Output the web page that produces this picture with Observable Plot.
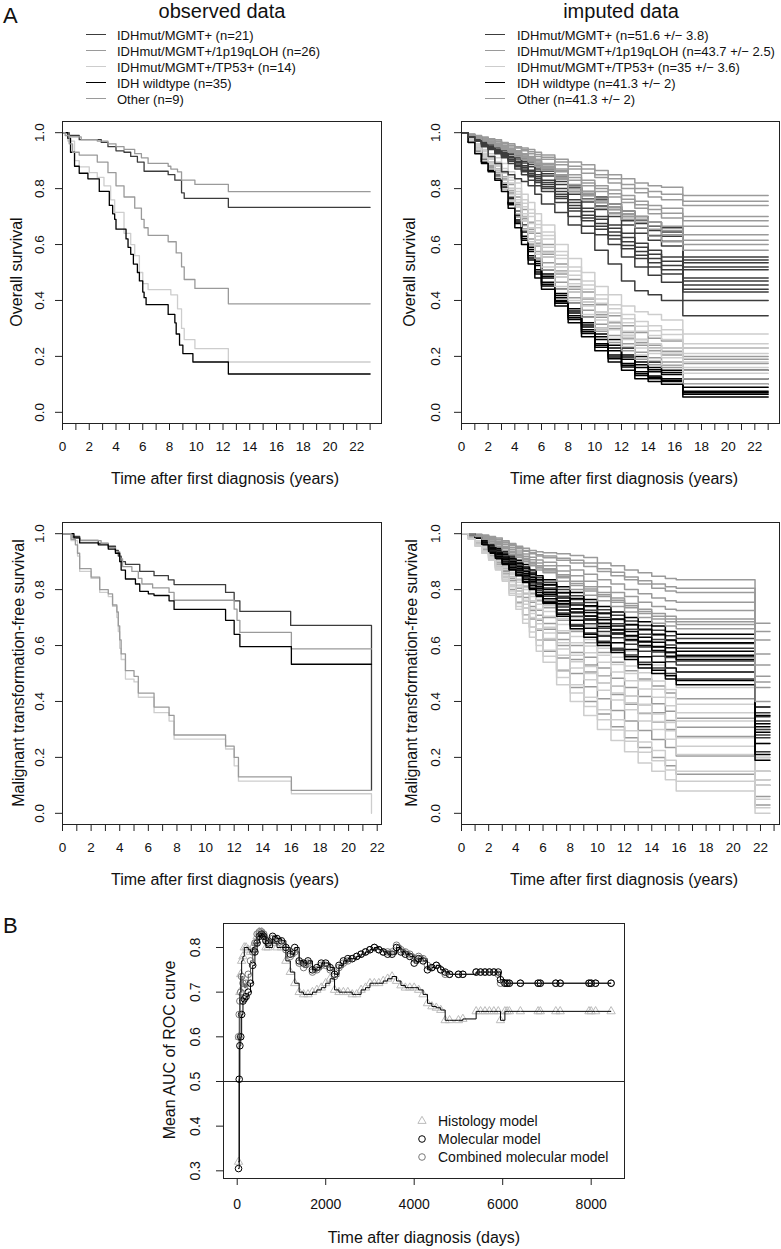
<!DOCTYPE html>
<html><head><meta charset="utf-8">
<script src="https://cdn.jsdelivr.net/npm/d3@7"></script>
<script src="https://cdn.jsdelivr.net/npm/@observablehq/plot@0.6"></script>
<style>
body{margin:0;background:#fff;}
#fig{position:relative;width:781px;height:1249px;font-family:"Liberation Sans",Arial,Helvetica,sans-serif;color:#111;overflow:hidden;background:#fff;}
.abs{position:absolute;white-space:nowrap;line-height:1;}
</style></head><body><div id="fig"></div>
<script>
// ---------------- DATA ----------------
const groupNames = ["IDHmut/MGMT+","IDHmut/MGMT+/1p19qLOH","IDHmut/MGMT+/TP53+","IDH wildtype","Other"];
const obsCounts = ["(n=21)","(n=26)","(n=14)","(n=35)","(n=9)"];
const impCounts = ["(n=51.6 +/\u2212 3.8)","(n=43.7 +/\u2212 2.5)","(n=35 +/\u2212 3.6)","(n=41.3 +/\u2212 2)","(n=41.3 +/\u2212 2)"];
const groupColors = ["#3c3c3c","#9a9a9a","#cdcdcd","#000000","#9a9a9a"];

const yTicksSurv = [0,0.2,0.4,0.6,0.8,1.0];
const xTicksTop = [0,1,2,3,4,5,6,7,8,9,10,11,12,13,14,15,16,17,18,19,20,21,22,23];
const xTicksBL = [0,1,2,3,4,5,6,7,8,9,10,11,12,13,14,15,16,17,18,19,20,21,22];
const xTicksBR = [0,1,2,3,4,5,6,7,8,9,10,11,12,13,14,15,16,17,18,19,20,21,22,23];

// observed overall survival [years, survival]
const osObs_MGMT = [[0,1],[0.5,0.99],[1.25,0.975],[2.9,0.965],[3.4,0.95],[4,0.935],[4.6,0.93],[5.1,0.915],[5.6,0.895],[6.1,0.862],[7.9,0.85],[8.4,0.83],[8.9,0.785],[9.1,0.765],[12.4,0.733],[23,0.733]];
const osObs_1p19q = [[0,1],[0.4,0.985],[1.4,0.975],[2.6,0.97],[3.4,0.96],[4,0.95],[4.6,0.94],[5.4,0.925],[5.9,0.91],[6.4,0.89],[7.9,0.88],[8.1,0.87],[8.6,0.86],[8.9,0.83],[9.9,0.815],[12.4,0.789],[23,0.789]];
const osObs_TP53 = [[0,1],[0.4,0.97],[0.9,0.90],[1.25,0.878],[2,0.857],[2.6,0.84],[3.1,0.81],[3.6,0.76],[3.9,0.715],[4.6,0.64],[5.1,0.60],[5.4,0.56],[5.75,0.50],[6,0.46],[6.4,0.439],[8.1,0.42],[8.6,0.37],[8.9,0.30],[9.1,0.26],[9.9,0.228],[12.4,0.18],[23,0.18]];
const osObs_IDHwt = [[0,1],[0.4,0.98],[0.6,0.93],[0.9,0.88],[1.25,0.855],[1.9,0.835],[2.75,0.79],[3.5,0.74],[3.75,0.71],[3.9,0.69],[4,0.655],[4.75,0.62],[4.9,0.59],[5.1,0.565],[5.3,0.53],[5.6,0.50],[5.75,0.47],[6,0.43],[6.1,0.41],[6.25,0.385],[7.9,0.35],[8.4,0.32],[8.5,0.28],[8.75,0.24],[9,0.21],[9.75,0.18],[12.4,0.137],[23,0.137]];
const osObs_Other = [[0,1],[0.2,0.99],[0.5,0.96],[0.75,0.93],[1.25,0.92],[2.6,0.895],[3.4,0.857],[4,0.81],[4.6,0.77],[5.4,0.73],[5.9,0.69],[6.1,0.66],[6.4,0.633],[7.9,0.61],[8.5,0.57],[8.9,0.52],[9.1,0.475],[9.9,0.443],[12.4,0.388],[23,0.388]];

// observed malignant-transformation-free survival
const mtObs_MGMT = [[0,1],[0.7,0.99],[1.2,0.976],[2.5,0.965],[3.2,0.955],[3.7,0.94],[3.9,0.92],[4.1,0.90],[4.4,0.89],[5.4,0.865],[6.4,0.85],[7.4,0.835],[7.8,0.818],[11.4,0.79],[12.0,0.76],[12.4,0.722],[15.95,0.672],[21.6,0.082]];
const mtObs_1p19q = [[0,1],[0.7,0.985],[1.2,0.975],[2.7,0.965],[3.2,0.95],[3.7,0.935],[4,0.91],[4.2,0.882],[4.85,0.865],[5.3,0.84],[5.55,0.82],[6.3,0.806],[7.45,0.79],[7.8,0.762],[12.0,0.73],[12.2,0.69],[12.4,0.647],[16,0.588],[21.6,0.588]];
const mtObs_TP53 = [[0,1],[0.6,0.975],[1.05,0.92],[1.2,0.865],[2,0.84],[2.6,0.79],[3.2,0.775],[3.5,0.74],[3.8,0.70],[3.9,0.65],[4.0,0.59],[4.1,0.55],[4.4,0.48],[5.0,0.47],[5.3,0.415],[6.4,0.36],[7.45,0.33],[7.8,0.265],[11.4,0.23],[12.0,0.17],[12.3,0.115],[16,0.07],[21.6,0]];
const mtObs_IDHwt = [[0,1],[0.8,0.985],[1.2,0.967],[2.5,0.96],[3.2,0.945],[3.7,0.93],[4,0.90],[4.1,0.87],[4.4,0.838],[5.1,0.82],[5.4,0.794],[6,0.785],[6.4,0.779],[7.45,0.76],[7.8,0.729],[11.4,0.69],[12,0.64],[12.4,0.596],[16,0.533],[21.6,0.533]];
const mtObs_Other = [[0,1],[0.6,0.98],[0.9,0.96],[1.05,0.93],[1.2,0.875],[2,0.845],[2.6,0.80],[3.2,0.785],[3.5,0.745],[3.8,0.72],[3.9,0.67],[4.0,0.62],[4.1,0.57],[4.4,0.51],[5.0,0.49],[5.3,0.43],[6.4,0.38],[7.45,0.35],[7.8,0.28],[11.4,0.24],[12.0,0.20],[12.3,0.13],[16,0.082],[21.6,0.082]];

// imputed overall survival: time grid and curves (one row per imputation)
const osImpTimes = [0,0.5,1,1.5,2,2.5,3,3.5,4,4.5,5,5.5,6,7,8,9,10,11,12,13,14,15,16.6,23];
const osImp_MGMT = [
 [1,.99,.985,.975,.965,.96,.95,.94,.925,.915,.905,.89,.875,.85,.81,.79,.77,.745,.72,.70,.68,.66,.555,.555],
 [1,.99,.984,.974,.964,.958,.947,.936,.922,.91,.899,.884,.868,.842,.805,.782,.76,.735,.71,.688,.665,.645,.545,.545],
 [1,.99,.982,.972,.962,.955,.944,.932,.918,.905,.893,.878,.862,.835,.80,.775,.75,.725,.70,.675,.65,.63,.535,.535],
 [1,.989,.981,.97,.96,.951,.94,.927,.912,.898,.886,.87,.853,.825,.79,.763,.738,.712,.685,.658,.632,.612,.52,.52],
 [1,.988,.98,.968,.957,.948,.936,.922,.906,.892,.878,.862,.845,.815,.78,.752,.725,.70,.67,.64,.615,.595,.51,.51],
 [1,.988,.978,.965,.952,.942,.93,.915,.898,.882,.866,.85,.83,.80,.76,.73,.70,.67,.64,.605,.58,.555,.48,.48],
 [1,.987,.977,.963,.95,.939,.926,.91,.893,.876,.86,.842,.822,.79,.75,.718,.69,.658,.625,.59,.565,.54,.47,.47],
 [1,.987,.975,.962,.948,.936,.922,.905,.888,.87,.853,.835,.815,.78,.74,.705,.675,.645,.61,.575,.55,.525,.455,.455],
 [1,.986,.974,.96,.946,.933,.919,.902,.883,.865,.848,.828,.807,.772,.73,.695,.665,.632,.597,.562,.535,.51,.44,.44],
 [1,.986,.973,.958,.944,.93,.916,.898,.878,.86,.842,.822,.80,.765,.72,.685,.655,.62,.585,.55,.52,.495,.43,.43],
 [1,.985,.97,.955,.94,.925,.91,.89,.87,.85,.83,.81,.79,.75,.70,.665,.635,.60,.555,.52,.49,.465,.40,.40],
 [1,.985,.97,.95,.915,.89,.86,.85,.835,.825,.81,.78,.745,.715,.67,.64,.58,.53,.47,.435,.42,.40,.345,.345]
];
const osImp_1p19q = [
 [1,.995,.99,.985,.978,.975,.965,.96,.95,.945,.94,.93,.92,.905,.895,.885,.865,.85,.835,.82,.81,.805,.775,.775],
 [1,.994,.988,.982,.976,.97,.962,.955,.947,.94,.932,.922,.912,.895,.88,.87,.85,.835,.815,.80,.79,.78,.755,.755],
 [1,.993,.987,.98,.975,.968,.96,.952,.945,.935,.925,.915,.905,.885,.87,.855,.84,.82,.80,.785,.77,.76,.74,.74],
 [1,.992,.985,.978,.97,.962,.955,.945,.935,.925,.915,.905,.89,.87,.85,.83,.81,.795,.775,.755,.74,.73,.70,.70],
 [1,.991,.984,.976,.969,.961,.952,.942,.932,.922,.912,.90,.885,.865,.84,.82,.80,.782,.762,.742,.725,.712,.685,.685],
 [1,.99,.983,.975,.968,.96,.95,.94,.93,.92,.91,.895,.88,.86,.83,.81,.79,.77,.75,.73,.71,.695,.665,.665],
 [1,.99,.982,.973,.965,.957,.947,.937,.925,.915,.903,.89,.875,.85,.815,.79,.765,.745,.72,.70,.68,.665,.635,.635],
 [1,.99,.981,.972,.963,.954,.945,.935,.922,.912,.901,.887,.872,.845,.808,.782,.757,.735,.71,.69,.667,.65,.615,.615],
 [1,.99,.98,.972,.962,.952,.943,.933,.92,.91,.90,.885,.87,.84,.80,.775,.75,.725,.70,.68,.655,.635,.60,.60],
 [1,.99,.98,.97,.96,.95,.94,.93,.915,.905,.895,.88,.865,.835,.79,.76,.73,.71,.69,.66,.63,.61,.58,.58]
];
const osImp_TP53 = [
 [1,.985,.96,.94,.925,.91,.89,.86,.82,.78,.75,.71,.67,.60,.55,.50,.45,.42,.38,.36,.35,.33,.28,.28],
 [1,.983,.957,.935,.91,.888,.863,.83,.79,.748,.712,.672,.632,.562,.505,.455,.405,.37,.335,.308,.292,.278,.23,.23],
 [1,.982,.955,.932,.915,.895,.872,.84,.80,.76,.725,.685,.645,.575,.52,.47,.42,.385,.35,.325,.31,.295,.245,.245],
 [1,.98,.95,.925,.905,.88,.855,.82,.78,.735,.70,.66,.62,.55,.49,.44,.39,.355,.32,.29,.275,.26,.21,.21],
 [1,.977,.945,.918,.895,.868,.84,.80,.76,.71,.675,.63,.59,.52,.46,.41,.36,.325,.29,.26,.245,.23,.18,.18],
 [1,.975,.942,.914,.89,.862,.83,.79,.748,.698,.66,.615,.572,.502,.445,.395,.345,.31,.275,.245,.228,.212,.16,.16],
 [1,.973,.94,.91,.885,.855,.82,.78,.735,.685,.645,.60,.555,.485,.43,.38,.33,.295,.26,.23,.21,.195,.14,.14],
 [1,.97,.93,.90,.87,.84,.80,.755,.71,.655,.61,.565,.52,.45,.40,.35,.30,.265,.235,.205,.185,.17,.10,.10]
];
const osImp_IDHwt = [
 [1,.975,.94,.91,.885,.86,.83,.78,.72,.67,.60,.55,.51,.44,.39,.34,.30,.26,.23,.20,.18,.17,.15,.15],
 [1,.973,.937,.905,.88,.853,.82,.77,.71,.655,.59,.54,.495,.425,.37,.32,.28,.24,.205,.18,.16,.15,.10,.10],
 [1,.972,.936,.903,.877,.85,.817,.766,.705,.65,.582,.532,.487,.418,.362,.312,.27,.23,.198,.17,.152,.142,.12,.12],
 [1,.971,.935,.902,.875,.848,.815,.762,.70,.645,.575,.525,.48,.41,.355,.305,.26,.22,.19,.16,.145,.135,.09,.09],
 [1,.969,.932,.898,.87,.842,.808,.752,.688,.63,.56,.51,.465,.40,.345,.295,.245,.205,.175,.145,.13,.12,.075,.075],
 [1,.968,.93,.896,.867,.839,.804,.747,.681,.622,.552,.502,.458,.395,.338,.288,.24,.198,.168,.138,.125,.115,.07,.07],
 [1,.967,.928,.894,.865,.836,.80,.742,.675,.615,.545,.495,.452,.39,.332,.282,.233,.192,.162,.132,.12,.11,.065,.065],
 [1,.965,.925,.89,.86,.83,.79,.73,.66,.60,.53,.48,.44,.38,.32,.27,.22,.18,.15,.12,.11,.10,.055,.055]
];
const osImp_Other = [
 [1,.98,.95,.925,.905,.88,.855,.815,.77,.725,.68,.64,.60,.53,.475,.43,.385,.345,.31,.285,.265,.255,.23,.23],
 [1,.978,.946,.918,.895,.87,.842,.80,.75,.70,.655,.615,.575,.505,.45,.405,.36,.32,.285,.26,.24,.23,.20,.20],
 [1,.977,.944,.915,.891,.865,.836,.792,.742,.692,.647,.605,.565,.495,.44,.395,.35,.31,.275,.25,.23,.218,.19,.19],
 [1,.975,.942,.912,.888,.86,.83,.785,.735,.685,.64,.595,.555,.485,.43,.385,.34,.30,.265,.24,.22,.205,.175,.175],
 [1,.973,.938,.906,.88,.852,.82,.772,.72,.668,.62,.575,.535,.465,.41,.365,.315,.275,.245,.215,.195,.18,.15,.15],
 [1,.97,.935,.90,.875,.845,.81,.76,.70,.65,.60,.55,.51,.44,.39,.34,.29,.25,.22,.19,.17,.16,.12,.12]
];

// imputed malignant-transformation-free survival
const mtImpTimes = [0,0.5,1,1.5,2,2.5,3,3.5,4,4.5,5,5.5,6,7,8,9,10,11,12,13,14,15,15.8,21.6,22.7];
const mtImp_MGMT = [
 [1,.998,.99,.974,.958,.944,.93,.915,.898,.882,.862,.842,.826,.80,.778,.754,.728,.708,.688,.672,.655,.635,.625,.36,.36],
 [1,.997,.989,.972,.955,.94,.925,.909,.892,.875,.855,.834,.816,.788,.765,.74,.714,.693,.673,.656,.638,.618,.607,.345,.345],
 [1,.997,.988,.97,.952,.936,.92,.904,.886,.868,.848,.826,.806,.776,.752,.726,.70,.678,.658,.64,.622,.602,.59,.33,.33],
 [1,.996,.987,.967,.947,.929,.912,.894,.875,.856,.834,.81,.79,.758,.73,.705,.678,.655,.632,.612,.594,.574,.56,.30,.30],
 [1,.996,.986,.965,.943,.924,.906,.888,.868,.848,.826,.802,.782,.746,.716,.69,.662,.64,.618,.595,.577,.557,.545,.28,.28],
 [1,.996,.986,.964,.94,.92,.902,.884,.864,.842,.82,.797,.776,.738,.705,.678,.65,.628,.605,.58,.562,.542,.53,.27,.27],
 [1,.995,.985,.962,.934,.914,.894,.875,.855,.83,.806,.782,.758,.716,.675,.645,.615,.59,.566,.54,.52,.50,.48,.22,.22]
];
const mtImp_1p19q = [
 [1,1,.998,.995,.99,.985,.975,.965,.955,.948,.94,.935,.932,.928,.922,.915,.895,.885,.87,.86,.848,.84,.835,.68,.68],
 [1,.999,.997,.993,.987,.98,.97,.96,.95,.94,.932,.925,.92,.912,.905,.895,.875,.862,.845,.832,.82,.81,.805,.65,.65],
 [1,.999,.996,.992,.985,.978,.968,.957,.946,.937,.928,.92,.914,.905,.895,.883,.865,.85,.835,.82,.805,.795,.79,.62,.62],
 [1,.998,.995,.99,.982,.973,.962,.95,.938,.927,.916,.906,.898,.885,.87,.855,.835,.82,.80,.785,.77,.76,.755,.57,.57],
 [1,.998,.994,.988,.978,.968,.955,.943,.931,.919,.907,.895,.885,.867,.85,.83,.81,.79,.775,.755,.74,.73,.725,.53,.53],
 [1,.997,.993,.986,.974,.964,.95,.937,.925,.912,.898,.885,.875,.853,.83,.81,.79,.77,.75,.73,.715,.705,.695,.49,.49],
 [1,.997,.993,.985,.972,.962,.948,.934,.922,.909,.895,.881,.871,.848,.822,.802,.782,.762,.742,.722,.705,.695,.685,.47,.47],
 [1,.996,.992,.983,.97,.96,.946,.931,.92,.906,.892,.877,.867,.842,.815,.795,.775,.755,.735,.715,.695,.685,.675,.45,.45],
 [1,.995,.99,.98,.965,.955,.94,.925,.915,.90,.885,.87,.86,.83,.80,.78,.76,.74,.72,.70,.68,.67,.66,.40,.40]
];
const mtImp_TP53 = [
 [1,.99,.975,.955,.94,.92,.90,.88,.86,.84,.82,.80,.78,.74,.70,.67,.64,.61,.58,.56,.53,.50,.45,.30,.30],
 [1,.988,.971,.95,.932,.91,.887,.862,.838,.814,.79,.765,.742,.697,.655,.622,.59,.558,.527,.503,.473,.443,.39,.25,.25],
 [1,.988,.969,.947,.928,.904,.88,.853,.826,.80,.775,.748,.722,.675,.632,.598,.565,.532,.50,.474,.444,.414,.36,.22,.22],
 [1,.987,.967,.945,.925,.899,.873,.845,.815,.788,.76,.73,.705,.653,.61,.574,.54,.505,.474,.445,.415,.385,.33,.20,.20],
 [1,.985,.964,.94,.918,.89,.86,.828,.795,.762,.73,.695,.665,.61,.565,.525,.49,.455,.42,.39,.355,.325,.27,.15,.15],
 [1,.985,.962,.938,.915,.885,.852,.818,.784,.748,.715,.678,.645,.588,.542,.50,.465,.43,.395,.36,.328,.295,.24,.12,.12],
 [1,.984,.96,.936,.912,.88,.845,.81,.773,.735,.70,.66,.625,.565,.52,.478,.44,.405,.37,.33,.30,.265,.21,.10,.10],
 [1,.982,.957,.933,.908,.875,.838,.795,.75,.708,.665,.62,.583,.513,.46,.415,.37,.335,.295,.255,.225,.19,.15,.05,.05],
 [1,.981,.956,.931,.906,.872,.834,.787,.74,.694,.648,.60,.562,.486,.43,.382,.335,.298,.258,.218,.188,.155,.115,.02,.02],
 [1,.98,.955,.93,.905,.87,.83,.78,.73,.68,.63,.58,.54,.46,.40,.35,.30,.26,.22,.18,.15,.12,.08,.0,.0]
];
const mtImp_IDHwt = [
 [1,.998,.99,.975,.96,.948,.935,.92,.905,.89,.87,.85,.835,.81,.79,.765,.74,.72,.70,.685,.67,.65,.64,.38,.38],
 [1,.997,.989,.972,.955,.94,.926,.91,.893,.877,.856,.835,.818,.79,.768,.742,.716,.695,.675,.658,.64,.62,.61,.35,.35],
 [1,.997,.988,.969,.95,.933,.917,.90,.882,.864,.842,.82,.80,.77,.745,.718,.692,.67,.65,.63,.612,.592,.58,.32,.32],
 [1,.997,.988,.967,.947,.93,.913,.895,.876,.857,.835,.812,.791,.76,.732,.706,.68,.657,.636,.615,.597,.577,.565,.31,.31],
 [1,.996,.987,.966,.944,.926,.908,.89,.87,.85,.828,.805,.783,.75,.72,.695,.668,.645,.622,.60,.582,.562,.55,.29,.29],
 [1,.996,.986,.963,.937,.918,.899,.88,.86,.837,.814,.79,.767,.727,.69,.662,.634,.61,.586,.56,.54,.52,.505,.25,.25],
 [1,.995,.985,.961,.933,.913,.893,.872,.852,.828,.804,.779,.755,.712,.67,.64,.61,.584,.56,.532,.512,.492,.475,.21,.21],
 [1,.995,.985,.96,.93,.91,.89,.87,.85,.825,.80,.775,.75,.705,.66,.63,.60,.575,.55,.52,.50,.48,.46,.19,.19]
];
const mtImp_Other = [
 [1,.99,.97,.95,.93,.91,.885,.86,.835,.81,.785,.76,.735,.69,.65,.61,.575,.54,.51,.48,.455,.43,.41,.20,.20],
 [1,.989,.967,.946,.925,.903,.875,.846,.815,.785,.755,.726,.70,.645,.60,.558,.52,.483,.45,.418,.392,.365,.34,.15,.15],
 [1,.988,.966,.944,.922,.899,.87,.84,.805,.772,.74,.708,.679,.622,.575,.53,.492,.454,.42,.388,.36,.332,.308,.12,.12],
 [1,.988,.965,.943,.92,.895,.866,.833,.795,.76,.725,.69,.658,.60,.55,.505,.465,.425,.39,.357,.327,.30,.275,.10,.10],
 [1,.986,.962,.939,.915,.888,.856,.817,.775,.735,.695,.655,.62,.555,.50,.453,.41,.368,.33,.296,.264,.235,.205,.06,.06],
 [1,.985,.96,.935,.91,.88,.845,.80,.755,.71,.665,.62,.58,.51,.45,.40,.355,.31,.27,.235,.20,.17,.14,.03,.03]
];

// Panel B: mean AUC over time (days)
const aucModels = ["Histology model","Molecular model","Combined molecular model"];
const aucDays = [30,45,60,80,100,130,160,200,250,300,350,400,450,500,550,600,650,700,800,900,1000,1100,1200,1300,1400,1500,1600,1700,1800,1900,2000,2100,2200,2300,2400,2500,2600,2700,2800,2900,3000,3100,3200,3300,3400,3500,3600,3700,3800,3900,4000,4100,4200,4300,4400,4500,4600,4700,4800,5000,5100,5400,5500,5600,5700,5800,5900,5950,6050,6100,6150,6400,6800,6850,7200,7300,7950,8000,8100,8450];
const aucMolecular = [.305,.505,.58,.60,.65,.68,.685,.69,.70,.72,.76,.79,.81,.825,.83,.825,.815,.81,.825,.82,.815,.80,.785,.80,.77,.765,.77,.75,.755,.765,.765,.755,.74,.76,.77,.775,.775,.78,.785,.79,.795,.80,.795,.79,.785,.785,.80,.79,.785,.78,.765,.775,.77,.75,.755,.76,.75,.745,.74,.74,.74,.745,.745,.745,.745,.745,.745,.728,.72,.72,.72,.72,.72,.72,.72,.72,.72,.72,.72,.72];
const aucCombined = [.60,.65,.68,.70,.735,.72,.71,.72,.74,.77,.79,.81,.83,.835,.835,.83,.815,.815,.82,.815,.81,.795,.78,.79,.765,.755,.765,.745,.75,.76,.76,.75,.735,.755,.765,.77,.775,.78,.785,.79,.795,.80,.795,.79,.79,.79,.805,.795,.79,.785,.775,.78,.775,.76,.755,.76,.75,.74,.74,.74,.74,.745,.745,.745,.745,.745,.74,.72,.72,.72,.72,.72,.72,.72,.72,.72,.72,.72,.72,.72];
const aucHistology = [.32,.60,.70,.74,.77,.78,.80,.80,.795,.79,.80,.81,.825,.835,.835,.83,.80,.80,.81,.80,.80,.77,.745,.72,.70,.695,.695,.70,.705,.71,.72,.73,.705,.70,.70,.70,.695,.695,.705,.71,.72,.72,.72,.725,.73,.735,.725,.715,.71,.71,.71,.705,.695,.675,.668,.665,.66,.637,.637,.637,.64,.657,.657,.657,.657,.657,.657,.637,.657,.657,.657,.657,.657,.657,.657,.657,.657,.657,.657,.657];
const aucTicksX = [0,2000,4000,6000,8000];
const aucTicksY = [0.3,0.4,0.5,0.6,0.7,0.8];
const aucRef = [0.5];

// ---------------- RENDER ----------------
const FONT = '"Liberation Sans", Arial, Helvetica, sans-serif';
const fig = document.getElementById("fig");

function txt(s, x, y, size, opts = {}) {
  const d = document.createElement("div");
  d.className = "abs";
  d.textContent = s;
  d.style.left = x + "px";
  d.style.top = y + "px";
  d.style.fontSize = size + "px";
  if (opts.color) d.style.color = opts.color;
  let tf = opts.anchor === "middle" ? "translate(-50%,-50%)" : "translate(0,-50%)";
  if (opts.rotate) tf = "translate(-50%,-50%) rotate(-90deg)";
  d.style.transform = tf;
  fig.appendChild(d);
}
function place(el, left, top) {
  el.style.position = "absolute";
  el.style.left = left + "px";
  el.style.top = top + "px";
  fig.appendChild(el);
}

function obsData(list) {
  const out = [];
  list.forEach((pts, k) => pts.forEach(([t, s]) => out.push({id: "o" + k, t, s, c: groupColors[k]})));
  return out;
}
function impData(times, lists) {
  const out = [];
  const maxN = Math.max(...lists.map(l => l.length));
  for (let i = 0; i < maxN; i++) {
    lists.forEach((rows, g) => {
      const row = rows[i];
      if (!row) return;
      times.forEach((t, j) => { if (row[j] != null) out.push({id: g + "_" + i, t, s: row[j], c: groupColors[g]}); });
    });
  }
  return out;
}

function survPanel({fx, fy, xmax, xticks, data, sw, ypad}) {
  const mL = 70, mR = 2, mT = 6, mB = 44;
  const fw = fx[1] - fx[0], fh = fy[1] - fy[0];
  const svg = Plot.plot({
    width: fw + mL + mR, height: fh + mT + mB,
    marginLeft: mL, marginRight: mR, marginTop: mT, marginBottom: mB,
    style: {fontFamily: FONT, fontSize: "13.5px", color: "#111", background: "transparent", overflow: "visible"},
    x: {domain: [0, xmax]},
    y: {domain: [-0.04, 1.04]},
    color: {type: "identity"},
    marks: [
      Plot.line(data, {x: "t", y: "s", z: "id", stroke: "c", curve: "step-after", strokeWidth: sw}),
      Plot.frame({stroke: "#222", strokeWidth: 1}),
      Plot.axisX(xticks, {tickSize: 7, tickPadding: 11, fontSize: 13.5, tickFormat: d => d % 2 === 0 ? String(d) : "", label: null, stroke: "#222"}),
      Plot.axisY(yTicksSurv, {tickSize: 7, tickRotate: -90, tickPadding: ypad, fontSize: 13.5, tickFormat: d3.format(".1f"), label: null, stroke: "#222"})
    ]
  });
  place(svg, fx[0] - mL, fy[0] - mT);
}

// Headers & legends
txt("A", 3, 16, 22);
txt("B", 3, 926, 22);
txt("observed data", 222, 11, 20, {anchor: "middle"});
txt("imputed data", 621, 11, 20, {anchor: "middle"});
const legRows = [35, 51, 67, 83, 99];
function legendA(lineX, textX, counts) {
  groupNames.forEach((g, i) => {
    const ln = document.createElement("div");
    ln.className = "abs";
    ln.style.left = lineX + "px"; ln.style.top = (legRows[i] - 0.75) + "px";
    ln.style.width = "20px"; ln.style.height = "0";
    ln.style.borderTop = "1.5px solid " + groupColors[i];
    fig.appendChild(ln);
    txt(g + " " + counts[i], textX, legRows[i], 13);
  });
}
legendA(86, 117, obsCounts);
legendA(485, 517, impCounts);

// Survival panels
survPanel({fx: [62, 381], fy: [121, 423], xmax: 23.85, xticks: xTicksTop, sw: 1.3, ypad: 12,
  data: obsData([osObs_MGMT, osObs_1p19q, osObs_TP53, osObs_IDHwt, osObs_Other])});
survPanel({fx: [461, 779], fy: [121, 423], xmax: 23.85, xticks: xTicksTop, sw: 1.5, ypad: 15,
  data: impData(osImpTimes, [osImp_MGMT, osImp_1p19q, osImp_TP53, osImp_IDHwt, osImp_Other])});
survPanel({fx: [62, 381], fy: [522, 824], xmax: 22.3, xticks: xTicksBL, sw: 1.3, ypad: 12,
  data: obsData([mtObs_MGMT, mtObs_1p19q, mtObs_TP53, mtObs_IDHwt, mtObs_Other])});
survPanel({fx: [461, 779], fy: [522, 824], xmax: 23.4, xticks: xTicksBR, sw: 1.5, ypad: 15,
  data: impData(mtImpTimes, [mtImp_MGMT, mtImp_1p19q, mtImp_TP53, mtImp_IDHwt, mtImp_Other])});

txt("Overall survival", 17, 272, 16, {rotate: true});
txt("Overall survival", 410, 272, 16, {rotate: true});
txt("Malignant transformation-free survival", 19, 673, 16, {rotate: true});
txt("Malignant transformation-free survival", 412, 673, 16, {rotate: true});
txt("Time after first diagnosis (years)", 225, 479, 16, {anchor: "middle"});
txt("Time after first diagnosis (years)", 624, 479, 16, {anchor: "middle"});
txt("Time after first diagnosis (years)", 225, 880, 16, {anchor: "middle"});
txt("Time after first diagnosis (years)", 624, 880, 16, {anchor: "middle"});

// Panel B
{
  const rows = aucDays.map((d, i) => ({d, hist: aucHistology[i], mol: aucMolecular[i], comb: aucCombined[i]}));
  const mL = 73, mR = 16, mT = 10, mB = 71;
  const svg = Plot.plot({
    width: 490, height: 336, marginLeft: mL, marginRight: mR, marginTop: mT, marginBottom: mB,
    style: {fontFamily: FONT, fontSize: "14px", color: "#111", background: "transparent", overflow: "visible"},
    x: {domain: [-310, 8753]},
    y: {domain: [0.2828, 0.8537]},
    marks: [
      Plot.ruleY(aucRef, {stroke: "#222", strokeWidth: 1}),
      Plot.dot(rows, {x: "d", y: "hist", symbol: "triangle", r: 3.1, stroke: "#bcbcbc", fill: "none", strokeWidth: 1}),
      Plot.dot(rows, {x: "d", y: "comb", symbol: "circle", r: 3.3, stroke: "#7a7a7a", fill: "none", strokeWidth: 1}),
      Plot.dot(rows, {x: "d", y: "mol", symbol: "circle", r: 3.3, stroke: "#000", fill: "none", strokeWidth: 1}),
      Plot.line(rows, {x: "d", y: "hist", curve: "step-after", stroke: "#000", strokeWidth: 1}),
      Plot.line(rows, {x: "d", y: "comb", curve: "step-after", stroke: "#555", strokeWidth: 1}),
      Plot.line(rows, {x: "d", y: "mol", curve: "step-after", stroke: "#000", strokeWidth: 1}),
      Plot.frame({stroke: "#222", strokeWidth: 1}),
      Plot.axisX(aucTicksX, {tickSize: 7, tickPadding: 14, fontSize: 14, tickFormat: d => String(d), label: null, stroke: "#222"}),
      Plot.axisY(aucTicksY, {tickSize: 7, tickRotate: -90, tickPadding: 17, fontSize: 14, tickFormat: d3.format(".1f"), label: null, stroke: "#222"})
    ]
  });
  place(svg, 223 - mL, 923 - mT);
  txt("Mean AUC of ROC curve", 170, 1050, 16, {rotate: true});
  txt("Time after diagnosis (days)", 424, 1238, 16, {anchor: "middle"});

  // legend
  const ns = "http://www.w3.org/2000/svg";
  const lg = document.createElementNS(ns, "svg");
  lg.setAttribute("width", 20); lg.setAttribute("height", 60);
  const legY = [11, 29, 47];
  const tri = document.createElementNS(ns, "path");
  tri.setAttribute("d", `M10,${legY[0]-4.7}L14.1,${legY[0]+2.4}L5.9,${legY[0]+2.4}Z`);
  tri.setAttribute("fill", "none"); tri.setAttribute("stroke", "#bcbcbc");
  lg.appendChild(tri);
  [["#000", legY[1]], ["#7a7a7a", legY[2]]].forEach(([c, y]) => {
    const ci = document.createElementNS(ns, "circle");
    ci.setAttribute("cx", 10); ci.setAttribute("cy", y); ci.setAttribute("r", 3.3);
    ci.setAttribute("fill", "none"); ci.setAttribute("stroke", c);
    lg.appendChild(ci);
  });
  place(lg, 412, 1110);
  aucModels.forEach((m, i) => txt(m, 438, 1110 + legY[i], 14));
}
</script></body></html>
